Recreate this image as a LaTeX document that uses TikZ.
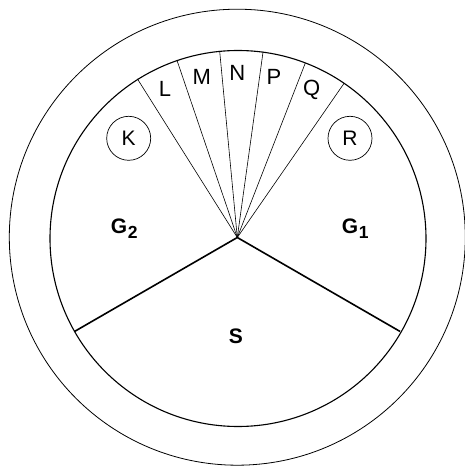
\documentclass[tikz,border=0pt]{standalone}
\usepackage{fontspec}
\setmainfont{Liberation Sans}
\newcommand{\gsub}[1]{\kern0.5pt\raisebox{-5.5pt}{\fontsize{17.5}{18}\selectfont\bfseries #1}}
\begin{document}
\begin{tikzpicture}[x=1pt,y=1pt,
  lbl/.style={font=\fontsize{22}{24}\selectfont, inner sep=0pt},
  blbl/.style={font=\fontsize{21}{24}\selectfont\bfseries, inner sep=0pt},
  ring/.style={draw, line width=0.8pt},
  spoke/.style={draw, line width=0.6pt},
  wall/.style={draw, line width=1.6pt},
  disc/.style={draw, circle, line width=0.7pt, minimum size=44pt, inner sep=0pt, font=\fontsize{21}{22}\selectfont}]
\useasboundingbox (-237.3,-228.5) rectangle (227.7,237.5);
\coordinate (hub) at (0,0);
\node[ring, circle, minimum size=456pt, inner sep=0pt] (outer) at (0,0.3) {};
\node[draw, circle, line width=1.1pt, minimum size=376pt, inner sep=0pt] (inner) at (0.7,-1) {};
% thin spokes
\foreach \a/\n in {122.2/s1,108.8/s2,95.4/s3,82.1/s4,68.7/s5,55.3/s6}{
  \coordinate (\n) at (\a:187.5);
  \draw[spoke] (hub) -- (\n);
}
% thick walls
\coordinate (w1) at (210:188);
\coordinate (w2) at (-30:188);
\draw[wall, line join=miter] (w1) -- (hub) -- (w2);
% labels
\node[lbl] (L) at (-72.3,148.2) {L};
\node[lbl] (M) at (-35.6,160.8) {M};
\node[lbl] (N) at (0,164.2) {N};
\node[lbl] (P) at (36.7,160.8) {P};
\node[lbl] (Q) at (74.4,147.5) {Q};
\node[disc] (K) at (-108.6,99.2) {K};
\node[disc] (R) at (112.7,99.2) {R};
\node[blbl, anchor=base west] (G2) at (-126.5,4.2) {G\gsub{2}};
\node[blbl, anchor=base west] (G1) at (104.5,4.2) {G\gsub{1}};
\node[blbl] (S) at (-1.5,-98.5) {S};
\end{tikzpicture}
\end{document}
